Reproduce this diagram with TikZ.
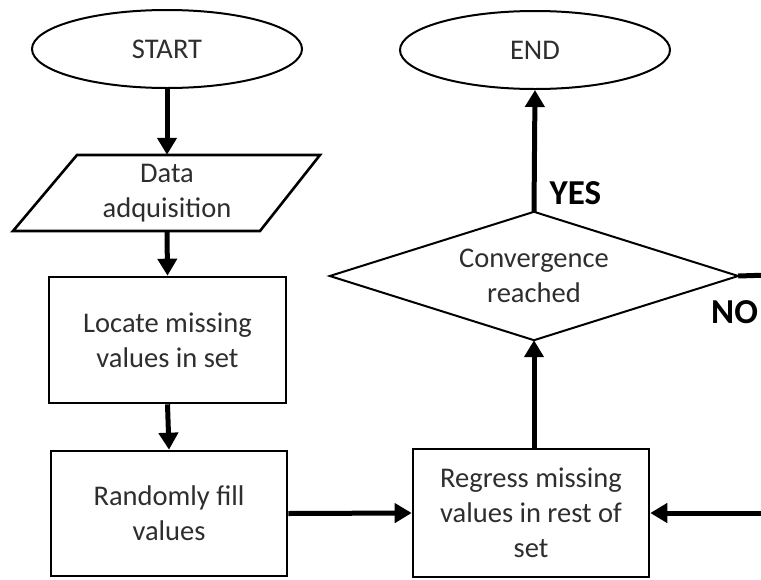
\documentclass[tikz,border=0pt]{standalone}
\usepackage{fontspec}
\setmainfont{Carlito}
\usetikzlibrary{arrows.meta,shapes.geometric}
\definecolor{txt}{HTML}{2E2E2E}
\tikzset{
  base/.style={inner sep=0pt, font=\fontsize{28.5}{35}\selectfont, text=txt, align=center},
  term/.style={base, ellipse, draw, line width=2pt, minimum width=270pt, minimum height=78pt},
  procbox/.style={base, rectangle, draw, line width=2.6pt},
  flow/.style={line width=5pt, -{Triangle[length=17pt,width=19pt]}},
  lab/.style={font=\fontsize{35}{40}\selectfont\bfseries, text=black, inner sep=0pt}
}
\begin{document}
\begin{tikzpicture}[x=1pt,y=-1pt]
\useasboundingbox (0,0) rectangle (761,579);
\clip (0,0) rectangle (761,579);
\fill[white] (0,0) rectangle (761,579);
% nodes
\node[term] (start) at (167,49) {START};
\node[term] (end) at (535,50) {END};
\draw[line width=2.6pt, line join=miter] (77,155) -- (320,155) -- (260,231) -- (13,231) -- cycle;
\node[base, minimum height=76pt, minimum width=200pt] (data) at (167,193) {Data\\adquisition};
\node[procbox, minimum width=237pt, minimum height=126pt] (locate) at (167.5,340) {Locate missing\\values in set};
\node[procbox, minimum width=236pt, minimum height=125pt] (random) at (169,513.5) {Randomly fill\\values};
\node[procbox, minimum width=236pt, minimum height=128pt] (regress) at (531,513) {Regress missing\\values in rest of\\set};
\node[base, minimum width=408pt, minimum height=128pt] (conv) at (534,276) {Convergence\\reached};
\draw[line width=2pt, line join=miter] (conv.north) -- (conv.east) -- (conv.south) -- (conv.west) -- cycle;
\coordinate (noend) at (770,275);
\coordinate (backin) at (770,513);
% connectors
\draw[flow] (start.south) -- (data.north);
\draw[flow] (data.south) -- (locate.north);
\draw[flow] (locate.south) -- (random.north);
\draw[flow] (random.east) -- (regress.west);
\draw[flow] (regress.north -| conv.south) -- (conv.south);
\draw[flow] (conv.north) -- (end.south) node[pos=0.15, lab, anchor=west, xshift=13pt] {YES};
\draw[line width=5pt] (conv.east) -- (noend);
\node[lab, anchor=west] (no) at (711,312) {NO};
\draw[flow] (backin) -- (regress.east);
\end{tikzpicture}
\end{document}
